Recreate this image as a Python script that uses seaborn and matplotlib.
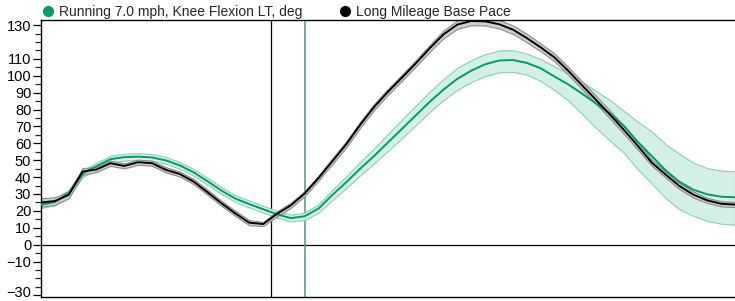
import numpy as np
import pandas as pd
import seaborn as sns
import matplotlib.pyplot as plt
import matplotlib.transforms as mtransforms
from matplotlib.lines import Line2D
from matplotlib.ticker import FixedLocator, MultipleLocator

# gait cycle, percent
pct = list(range(0, 101, 2))

# Running 7.0 mph, knee flexion LT (deg) - mean and band edges (offsets)
run_mean = [23.7, 25.2, 30.5, 42.0, 46.5, 50.6, 51.8, 52.1, 51.6, 49.9,
            46.9, 42.8, 37.5, 32.0, 27.3, 24.0, 21.0, 18.0, 15.7, 16.8,
            21.4, 29.5, 37.0, 45.0, 52.5, 60.5, 68.5, 76.5, 84.5, 91.8,
            98.2, 103.0, 106.8, 109.0, 109.3, 107.6, 104.4, 99.5, 94.8, 89.3,
            83.5, 77.5, 70.3, 60.8, 52.5, 44.0, 37.2, 32.5, 29.8, 28.4, 28.0]
run_lo = [2.0, 2.0, 2.0, 2.0, 2.0, 2.0, 2.0, 2.0, 2.0, 2.0,
          2.0, 2.0, 2.0, 2.0, 2.0, 2.0, 2.0, 2.0, 2.0, 2.2,
          2.5, 3.0, 3.5, 4.0, 4.5, 5.0, 5.5, 5.8, 6.0, 6.2,
          6.5, 6.8, 7.0, 7.0, 7.0, 7.0, 7.5, 8.0, 9.5, 12.0,
          14.5, 16.0, 16.0, 16.2, 16.3, 16.4, 16.3, 15.5, 15.8, 16.0, 16.2]
run_hi = [2.0, 2.0, 2.0, 2.0, 2.0, 2.0, 2.0, 2.0, 2.0, 2.0,
          2.0, 2.0, 2.0, 2.0, 2.0, 2.0, 2.0, 2.0, 2.0, 2.2,
          2.5, 3.0, 3.5, 4.0, 4.5, 5.0, 5.5, 5.8, 6.0, 6.2,
          6.5, 6.3, 6.0, 6.0, 5.8, 5.5, 5.5, 6.0, 6.5, 7.0,
          7.5, 8.0, 8.8, 12.0, 14.5, 15.5, 16.5, 16.0, 15.5, 15.4, 15.4]

# Long Mileage Base Pace - mean and half band
base_mean = [25.0, 25.8, 29.5, 43.3, 44.5, 48.2, 46.6, 48.8, 48.2, 44.3,
             41.8, 37.3, 31.0, 24.5, 18.5, 13.0, 12.2, 18.2, 23.3, 30.3,
             39.5, 49.5, 59.5, 71.0, 81.5, 90.5, 98.8, 107.3, 116.2, 124.5,
             130.3, 132.4, 132.2, 130.5, 127.3, 122.3, 116.8, 110.8, 102.8, 94.2,
             85.6, 76.9, 67.9, 58.5, 48.6, 41.5, 34.7, 29.6, 26.2, 24.2, 23.7]
base_sd = [2.5, 2.2, 2.0, 2.0, 1.5, 1.5, 1.5, 1.5, 1.5, 1.5,
           1.5, 1.5, 1.5, 1.5, 1.5, 1.5, 1.2, 1.5, 1.5, 1.5,
           1.5, 1.7, 1.8, 1.8, 1.8, 1.8, 1.8, 1.8, 2.0, 2.3,
           2.5, 2.5, 2.5, 2.5, 2.5, 2.5, 2.3, 2.3, 2.3, 2.3,
           2.3, 2.3, 2.3, 2.3, 1.8, 1.8, 1.8, 1.8, 1.5, 1.5, 1.5]

labels = ['Running 7.0 mph, Knee Flexion LT, deg', 'Long Mileage Base Pace']
events = [33.1, 38.0]
ytick_labels = [130, 110, 100, 90, 80, 70, 60, 50, 40, 30, 20, 10, 0, -10, -30]

green = '#009a6c'
df = pd.DataFrame({
    'pct': pct * 2,
    'angle': run_mean + base_mean,
    'series': [labels[0]] * len(pct) + [labels[1]] * len(pct),
})

sns.set_style('ticks')
plt.rcParams['font.family'] = ['Liberation Sans', 'DejaVu Sans']

fig = plt.figure(figsize=(7.35, 3.01), dpi=100)
ax = fig.add_axes([41 / 735, 4 / 301, 1 - 41 / 735, 277 / 301])

x = np.array(pct)
rm, bm = np.array(run_mean), np.array(base_mean)
ax.fill_between(x, rm - np.array(run_lo), rm + np.array(run_hi),
                facecolor='#d4efe5', edgecolor='#86d1b5', linewidth=0.8, zorder=1)
ax.fill_between(x, bm - np.array(base_sd), bm + np.array(base_sd),
                facecolor='#cfcfcf', edgecolor='#8a8a8a', linewidth=0.8, zorder=2)
sns.lineplot(data=df, x='pct', y='angle', hue='series',
             palette={labels[0]: green, labels[1]: 'black'},
             linewidth=1.4, legend=False, ax=ax, zorder=3)

ax.axhline(0, color='black', linewidth=0.9, zorder=0)
ax.axvline(events[0], color='black', linewidth=0.9, zorder=0)
ax.axvline(events[1], color='#5f9e88', linewidth=1.2, zorder=0)

ax.set_xlim(0, 100)
ax.set_ylim(-31, 133)
ax.set_xticks([])
ax.yaxis.set_major_locator(FixedLocator(ytick_labels))
ax.yaxis.set_minor_locator(MultipleLocator(5))
ax.tick_params(axis='y', which='major', length=6, width=0.9, pad=1, labelsize=10.5, colors='black')
ax.tick_params(axis='y', which='minor', length=4, width=0.9)
ax.set_xlabel('')
ax.set_ylabel('')
for s in ['left', 'top', 'bottom']:
    ax.spines[s].set_color('black')
    ax.spines[s].set_linewidth(1.0)
ax.spines['right'].set_visible(False)

# lift the bottom label so it stays inside the picture
fig.canvas.draw()
lift = mtransforms.ScaledTranslation(0, 4 / 100, fig.dpi_scale_trans)
for lab in ax.get_yticklabels():
    if lab.get_text().replace('\u2212', '-') == '-30':
        lab.set_transform(lab.get_transform() + lift)

handles = [Line2D([], [], marker='o', linestyle='', markersize=7, color=green),
           Line2D([], [], marker='o', linestyle='', markersize=7, color='black')]
fig.legend(handles, labels, loc='upper left', bbox_to_anchor=(43 / 735, 1 - 4 / 301), ncol=2,
           frameon=False, fontsize=10, handlelength=0.6, handletextpad=0.47,
           columnspacing=2.8, borderpad=0.05, borderaxespad=0)

fig.savefig('out.png', dpi=100)
